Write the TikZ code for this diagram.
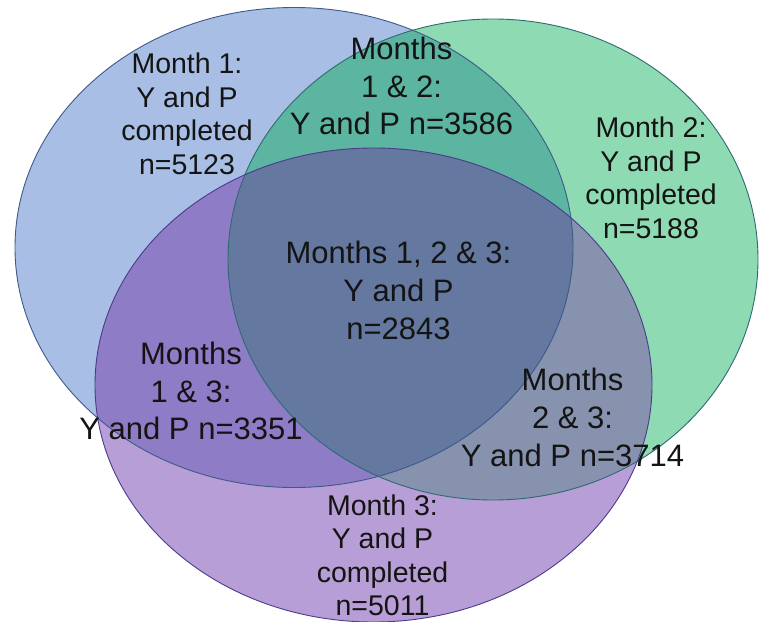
\documentclass[tikz,border=0pt]{standalone}
\usepackage{fontspec}
\setmainfont{Liberation Sans}
\definecolor{cB}{HTML}{A8BEE5}
\definecolor{cG}{HTML}{8EDAB2}
\definecolor{cP}{HTML}{B89ED6}
\definecolor{cBG}{HTML}{5CB5A0}
\definecolor{cBP}{HTML}{8E7CC6}
\definecolor{cGP}{HTML}{8692AE}
\definecolor{cBGP}{HTML}{6478A0}
\definecolor{oB}{HTML}{3D5A8A}
\definecolor{oG}{HTML}{2E6A72}
\definecolor{oP}{HTML}{4A3C8C}
\definecolor{txt}{HTML}{141414}
\begin{document}
\begin{tikzpicture}[x=1pt,y=-1pt,
  lblA/.style={align=center,inner sep=0pt,text=txt,font=\fontsize{28.5}{33.5}\selectfont},
  lblB/.style={align=center,inner sep=0pt,text=txt,font=\fontsize{31}{37.8}\selectfont},
  outl/.style={line width=0.9pt}]
\useasboundingbox (0,0) rectangle (759,621);
% single-set fills
\fill[cB] (294,247.5) ellipse [x radius=279pt, y radius=240pt];
\fill[cG] (493,259.5) ellipse [x radius=265pt, y radius=240.5pt];
\fill[cP] (373.5,385) ellipse [x radius=278.5pt, y radius=237pt];
% pairwise overlaps
\begin{scope}
  \clip (294,247.5) ellipse [x radius=279pt, y radius=240pt];
  \fill[cBG] (493,259.5) ellipse [x radius=265pt, y radius=240.5pt];
  \fill[cBP] (373.5,385) ellipse [x radius=278.5pt, y radius=237pt];
\end{scope}
\begin{scope}
  \clip (493,259.5) ellipse [x radius=265pt, y radius=240.5pt];
  \fill[cGP] (373.5,385) ellipse [x radius=278.5pt, y radius=237pt];
\end{scope}
% triple overlap
\begin{scope}
  \clip (294,247.5) ellipse [x radius=279pt, y radius=240pt];
  \clip (493,259.5) ellipse [x radius=265pt, y radius=240.5pt];
  \fill[cBGP] (373.5,385) ellipse [x radius=278.5pt, y radius=237pt];
\end{scope}
% outlines
\draw[outl,oB] (294,247.5) ellipse [x radius=279pt, y radius=240pt];
\draw[outl,oG] (493,259.5) ellipse [x radius=265pt, y radius=240.5pt];
\draw[outl,oP] (373.5,385) ellipse [x radius=278.5pt, y radius=237pt];
% labels
\node[lblA] (m1) at (187,114) {Month 1:\\Y and P\\completed\\n=5123};
\node[lblA] (m2) at (651,178) {Month 2:\\Y and P\\completed\\n=5188};
\node[lblA] (m3) at (382.5,555.5) {Month 3:\\Y and P\\completed\\n=5011};
\node[lblB] (m12) at (401.5,86) {Months\\1 \& 2:\\Y and P n=3586};
\node[lblB] (m13) at (191,391) {Months\\1 \& 3:\\Y and P n=3351};
\node[lblB] (m23) at (572.5,417.5) {Months\\2 \& 3:\\Y and P n=3714};
\node[lblB] (m123) at (398.5,290.5) {Months 1, 2 \& 3:\\Y and P\\n=2843};
\end{tikzpicture}
\end{document}
